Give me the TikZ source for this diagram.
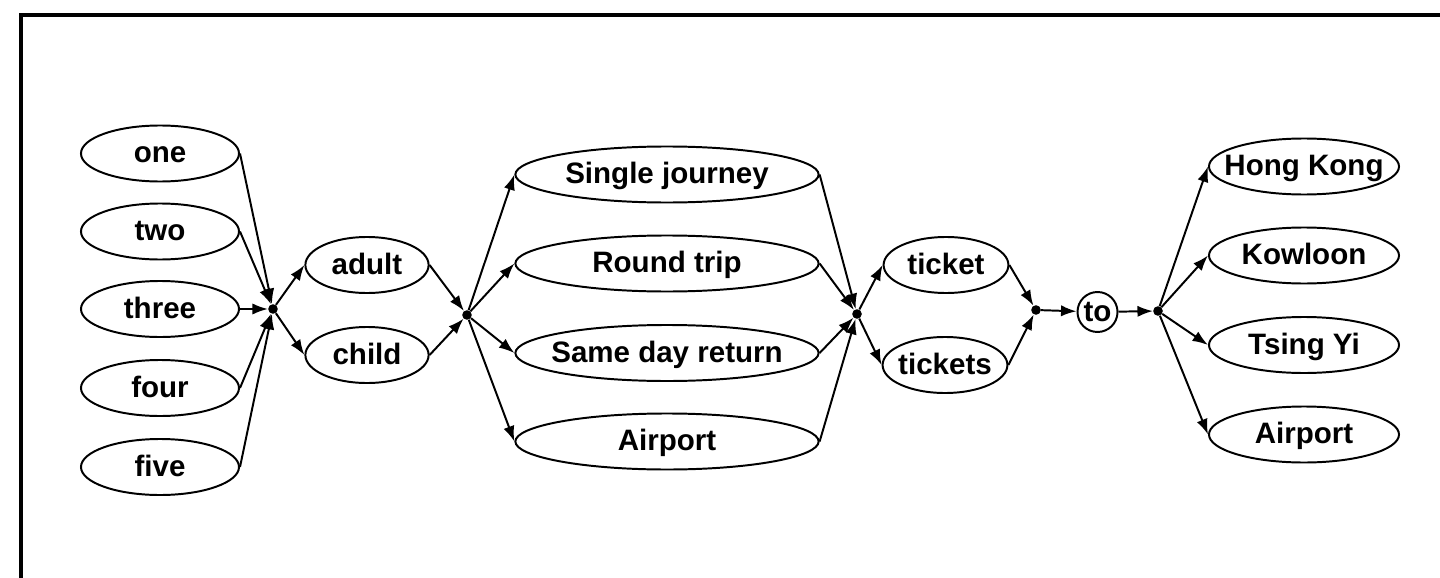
\documentclass[tikz,border=0pt]{standalone}
\usepackage{fontspec}
\setmainfont{Liberation Sans}
\usetikzlibrary{shapes.geometric,arrows.meta}
% label whose width does not enlarge its ellipse
\newcommand{\zw}[1]{\makebox[0pt]{#1}}
\begin{document}
\begin{tikzpicture}[x=0.025cm,y=-0.025cm,
  word/.style={draw,ellipse,line width=1.4pt,inner sep=0pt,minimum height=1.4cm,
    font=\fontsize{21}{24}\selectfont\bfseries,text height=15pt,text depth=1.5pt},
  numw/.style={word,minimum width=3.95cm},
  agew/.style={word,minimum width=3.08cm},
  kindw/.style={word,minimum width=7.58cm},
  tickw/.style={word,minimum width=3.12cm},
  placew/.style={word,minimum width=4.75cm},
  tow/.style={draw,circle,line width=1.4pt,inner sep=0pt,minimum size=1cm,
    font=\fontsize{21}{24}\selectfont\bfseries,text height=15pt,text depth=1.5pt},
  junction/.style={circle,fill=black,inner sep=0pt,minimum size=0.24cm},
  link/.style={line width=1.4pt,-{Latex[length=11pt,width=8pt]}}
]
\useasboundingbox (0,0) rectangle (1440,578);
% frame
\draw[line width=2.2pt] (21,578) -- (21,15) -- (1440,15);

% words
\node[numw] (one)   at (160,153.5) {\zw{one}};
\node[numw] (two)   at (160,231.5) {\zw{two}};
\node[numw] (three) at (160,309)   {\zw{three}};
\node[numw] (four)  at (160,388)   {\zw{four}};
\node[numw] (five)  at (160,467)   {\zw{five}};

\node[agew] (adult) at (367,265) {\zw{adult}};
\node[agew] (child) at (367,355) {\zw{child}};

\node[kindw] (single) at (667,174.5) {\zw{Single journey}};
\node[kindw] (round)  at (667,263.5) {\zw{Round trip}};
\node[kindw] (same)   at (667,353)   {\zw{Same day return}};
\node[kindw] (airk)   at (667,441.5) {\zw{Airport}};

\node[tickw] (ticket)  at (946,265) {\zw{ticket}};
\node[tickw] (tickets) at (945,365) {\zw{tickets}};

\node[tow] (to) at (1097.5,312) {to};

\node[placew] (hk)  at (1304,166.5) {\zw{Hong Kong}};
\node[placew] (kln) at (1304,255.5) {\zw{Kowloon}};
\node[placew] (ty)  at (1304,345)   {\zw{Tsing Yi}};
\node[placew] (air) at (1304,434.5) {\zw{Airport}};

% junctions
\node[junction] (j1) at (273,309) {};
\node[junction] (j2) at (467,315) {};
\node[junction] (j3) at (857,314) {};
\node[junction] (j4) at (1036,310) {};
\node[junction] (j5) at (1158,311) {};

% connectors
\foreach \n in {one,two,three,four,five}
  \draw[link] (\n.east) -- (j1);
\draw[link] (j1) -- (adult.west);
\draw[link] (j1) -- (child.west);
\draw[link] (adult.east) -- (j2);
\draw[link] (child.east) -- (j2);
\foreach \n in {single,round,same,airk}
  \draw[link] (j2) -- (\n.west);
\foreach \n in {single,round,same,airk}
  \draw[link] (\n.east) -- (j3);
\draw[link] (j3) -- (ticket.west);
\draw[link] (j3) -- (tickets.west);
\draw[link] (ticket.east) -- (j4);
\draw[link] (tickets.east) -- (j4);
\draw[link] (j4) -- (to);
\draw[link] (to) -- (j5);
\foreach \n in {hk,kln,ty,air}
  \draw[link] (j5) -- (\n.west);
\end{tikzpicture}
\end{document}
